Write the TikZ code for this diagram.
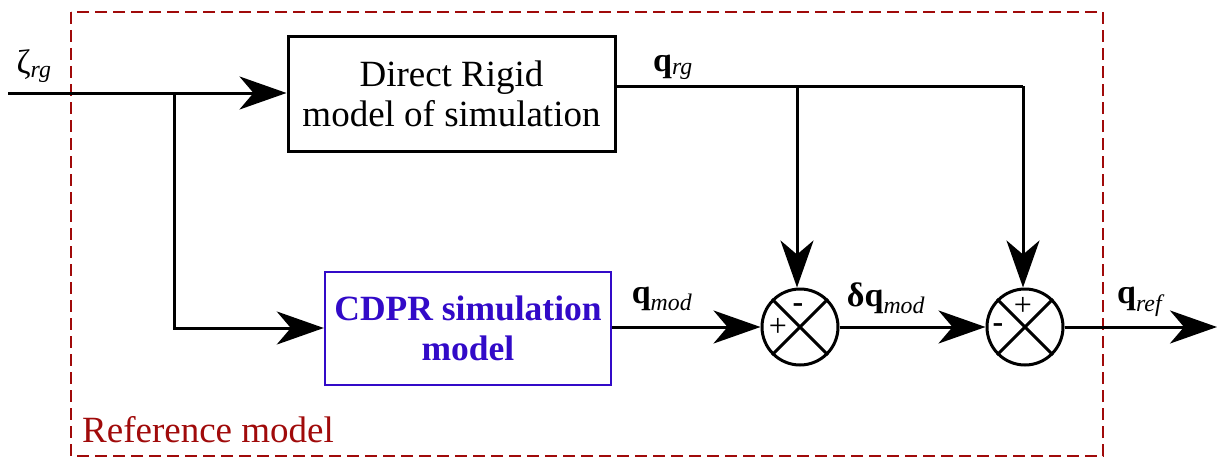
\documentclass[tikz,border=0pt]{standalone}
\usepackage{fontspec}
\setmainfont{LiberationSerif}[Extension=.ttf,UprightFont=*-Regular,BoldFont=*-Bold,ItalicFont=*-Italic,BoldItalicFont=*-BoldItalic]
\usetikzlibrary{arrows.meta}
\definecolor{refred}{RGB}{160,10,10}
\definecolor{cdprblue}{RGB}{50,10,200}
\tikzset{
  sig/.style={line width=3pt,-{Stealth[length=47pt,width=33pt,inset=14pt]}},
  wire/.style={line width=3pt},
  blockbox/.style={draw,line width=3pt,minimum width=327pt,minimum height=114pt,align=center,font=\fontsize{37}{40}\selectfont},
  sumnode/.style={draw,circle,line width=3pt,minimum size=76pt,inner sep=0pt},
  lbl/.style={font=\fontsize{34}{36}\selectfont,inner sep=0pt,anchor=base},
  signl/.style={font=\fontsize{32}{34}\selectfont,inner sep=0pt}
}
\begin{document}
\begin{tikzpicture}[x=1pt,y=-1pt]
\useasboundingbox (0,0) rectangle (1218,460);
\draw[refred,line width=2.4pt,dash pattern=on 12pt off 6pt] (71,12) rectangle (1103,456);
\node[refred,anchor=base west,font=\fontsize{37}{40}\selectfont,inner sep=0pt] (reflbl) at (82,442) {Reference model};

\node[blockbox] (rigid) at (451.5,94) {Direct Rigid\\model of simulation};
\node[blockbox,draw=cdprblue,line width=2.4pt,text=cdprblue,minimum width=286pt,minimum height=113pt,font=\bfseries\fontsize{35.5}{40}\selectfont] (cdpr) at (468,328.5) {CDPR simulation\\model};

\node[sumnode] (s1) at (800,327) {};
\node[sumnode] (s2) at (1025,327) {};
\draw[wire] (s1.north west) -- (s1.south east) (s1.north east) -- (s1.south west);
\draw[wire] (s2.north west) -- (s2.south east) (s2.north east) -- (s2.south west);
\node[signl] (s1m) at (798,308) {\textbf{-}};
\node[signl] (s1p) at (778,327) {+};
\node[signl] (s2p) at (1023,306) {+};
\node[signl] (s2m) at (998,328) {\textbf{-}};

\coordinate (in) at (8,93);
\coordinate (b1) at (174,93);
\coordinate (b1d) at (174,328);
\coordinate (qc) at (797,86);
\coordinate (qe) at (1023,86);
\coordinate (out) at (1217,327);

\draw[sig] (in) -- (rigid.west |- in);
\draw[sig] (b1) -- (b1d) -- (cdpr.west |- b1d);
\draw[wire] (rigid.east |- qc) -- (qe);
\draw[sig] (qe) -- (s2.north -| qe);
\draw[sig] (qc) -- (s1.north -| qc);
\draw[sig] (cdpr.east |- s1) -- (s1.west);
\draw[sig] (s1.east) -- (s2.west);
\draw[sig] (s2.east) -- (out);

\node[lbl] (zeta) at (34,74) {ζ\textsubscript{\textit{rg}}};
\node[lbl] (qrg) at (673,71) {\textbf{q}\textsubscript{\textit{rg}}};
\node[lbl] (qmod) at (662,303) {\textbf{q}\textsubscript{\textit{mod}}};
\node[lbl] (dqmod) at (886,306) {\textbf{δq}\textsubscript{\textit{mod}}};
\node[lbl] (qref) at (1141,303) {\textbf{q}\textsubscript{\textit{ref}}};
\end{tikzpicture}
\end{document}
